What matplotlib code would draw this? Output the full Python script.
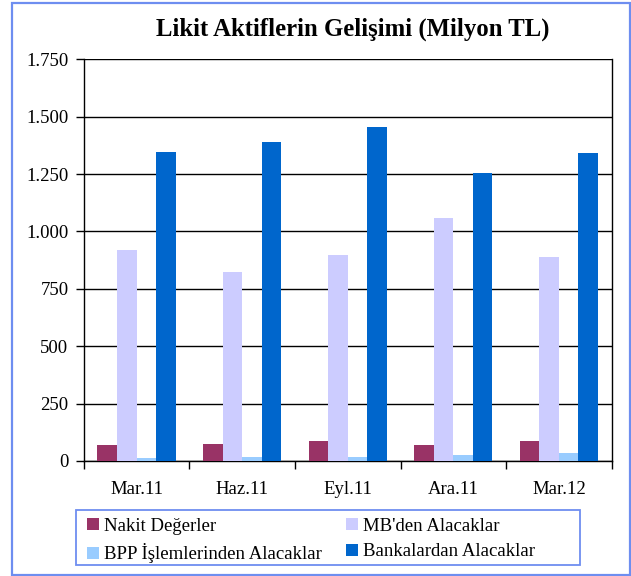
import numpy as np
import matplotlib
matplotlib.use('Agg')
import matplotlib.pyplot as plt
from matplotlib.patches import Rectangle

plt.rcParams['font.family'] = ['Liberation Serif', 'DejaVu Serif']

donemler = ['Mar.11', 'Haz.11', 'Eyl.11', 'Ara.11', 'Mar.12']
nakit = [70, 74, 87, 70, 87]
mb = [918, 823, 897, 1058, 888]
bpp = [13, 17, 17, 26, 35]
banka = [1345, 1389, 1454, 1254, 1341]
seriler = ['Nakit Değerler', "MB'den Alacaklar", 'BPP İşlemlerinden Alacaklar', 'Bankalardan Alacaklar']
renkler = ['#993366', '#CCCCFF', '#99CCFF', '#0066CC']
yticks = [0, 250, 500, 750, 1000, 1250, 1500, 1750]

fig = plt.figure(figsize=(6.31, 5.76), dpi=100)
ax = fig.add_axes([0.1327, 0.1997, 0.8367, 0.6973])

x = np.arange(len(donemler))
w = 0.185
bars = []
for i, (vals, lab, c) in enumerate(zip([nakit, mb, bpp, banka], seriler, renkler)):
    bars.append(ax.bar(x + (i - 1.5) * w, vals, w, color=c, label=lab, zorder=3))

ax.set_xlim(-0.5, len(donemler) - 0.5)
ax.set_ylim(0, 1750)
ax.set_yticks(yticks)
ax.set_yticklabels([f'{v:,}'.replace(',', '.') for v in yticks], fontsize=13.5)
ax.set_xticks(np.arange(-0.5, len(donemler), 1.0))
ax.set_xticklabels([])
ax.set_xticks(x, minor=True)
ax.set_xticklabels(donemler, minor=True, fontsize=13.5)
ax.tick_params(axis='x', which='major', length=6, direction='out', width=1, color='black')
ax.tick_params(axis='x', which='minor', length=0, pad=14.5)
ax.tick_params(axis='y', length=6, direction='out', width=1, pad=5)
ax.yaxis.grid(True, color='black', linewidth=1, zorder=0)
for s in ['left', 'bottom', 'right']:
    ax.spines[s].set_color('black')
    ax.spines[s].set_linewidth(1)
ax.spines['top'].set_visible(False)

fig.text(0.559, 0.95, 'Likit Aktiflerin Gelişimi (Milyon TL)', ha='center', va='center',
         fontsize=17.8, fontweight='bold')

# legend row by row: Nakit, MB / BPP, Banka
order = [0, 2, 1, 3]
leg = fig.legend([bars[i] for i in order], [seriler[i] for i in order],
                 loc='upper left', bbox_to_anchor=(87 / 631, 1 - 518 / 576),
                 ncol=2, fontsize=13.5, frameon=False,
                 handlelength=0.62, handleheight=0.62, handletextpad=0.3,
                 borderpad=0, labelspacing=0.45, columnspacing=1.28, borderaxespad=0)

kenar = '#6E8EF0'
fig.patches.append(Rectangle((76 / 631, 1 - 565 / 576), 504 / 631, 55 / 576, transform=fig.transFigure,
                             fill=False, edgecolor=kenar, linewidth=1.3))
fig.patches.append(Rectangle((12 / 631, 1 - 575 / 576), 618 / 631, 572 / 576, transform=fig.transFigure,
                             fill=False, edgecolor=kenar, linewidth=1.6))

fig.savefig('out.png', dpi=100)
